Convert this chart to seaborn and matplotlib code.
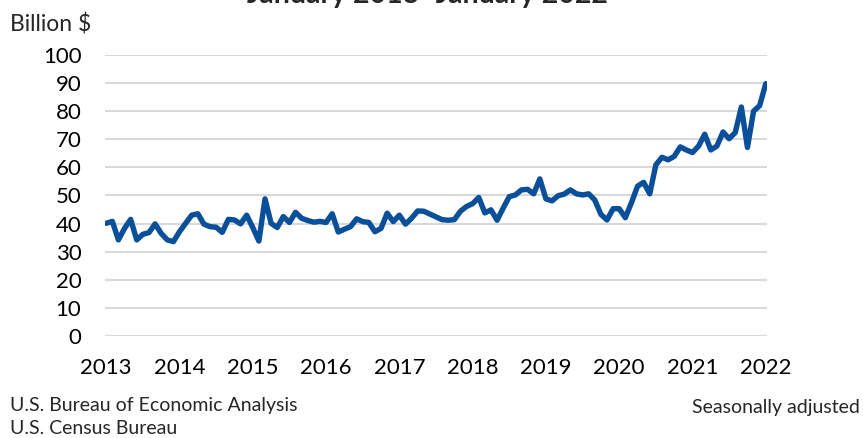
import matplotlib
matplotlib.use("Agg")
import matplotlib.pyplot as plt
import seaborn as sns
import pandas as pd
import numpy as np

# Monthly values, billion $ (Jan 2013 - Jan 2022)
v2013 = [40.1, 40.8, 34.2, 38.3, 41.5, 34.2, 36.2, 36.8, 39.9, 36.5, 34.2, 33.6]
v2014 = [37.1, 40.1, 43.0, 43.5, 39.8, 38.9, 38.7, 36.9, 41.5, 41.3, 39.9, 43.0]
v2015 = [38.6, 33.8, 48.8, 40.1, 38.6, 42.5, 40.4, 44.0, 41.9, 41.1, 40.5, 40.8]
v2016 = [40.4, 43.5, 37.0, 38.0, 38.9, 41.7, 40.7, 40.4, 37.1, 38.3, 43.7, 40.7]
v2017 = [43.0, 39.8, 41.9, 44.5, 44.4, 43.4, 42.4, 41.4, 41.2, 41.4, 44.4, 46.1]
v2018 = [47.1, 49.3, 43.8, 44.9, 41.2, 45.5, 49.6, 50.2, 52.0, 52.2, 50.6, 55.9]
v2019 = [48.8, 48.1, 49.9, 50.5, 52.0, 50.6, 50.2, 50.6, 48.4, 43.3, 41.3, 45.3]
v2020 = [45.3, 42.1, 47.4, 53.3, 54.7, 50.6, 60.9, 63.6, 62.7, 63.9, 67.3, 66.2]
v2021 = [65.3, 67.6, 71.8, 66.2, 67.6, 72.6, 70.2, 72.4, 81.5, 67.1, 80.0, 82.0]
v2022 = [89.8]

years = ["2013", "2014", "2015", "2016", "2017", "2018", "2019", "2020", "2021", "2022"]
y_ticks = [0, 10, 20, 30, 40, 50, 60, 70, 80, 90, 100]

values = v2013 + v2014 + v2015 + v2016 + v2017 + v2018 + v2019 + v2020 + v2021 + v2022
df = pd.DataFrame({"month": np.arange(len(values)), "value": values})

sns.set_theme(style="white")
plt.rcParams["font.family"] = ["Lato", "DejaVu Sans"]

W, H = 863, 438
fig = plt.figure(figsize=(W / 100, H / 100), dpi=100)
ax = fig.add_axes([105 / W, 1 - 336 / H, (767 - 105) / W, (336 - 55) / H])

for t in y_ticks:
    ax.axhline(t, color="#d9d9d9", lw=1.5, zorder=0)

sns.lineplot(data=df, x="month", y="value", ax=ax, color="#0a4f9a", lw=3.9,
             solid_capstyle="round", solid_joinstyle="round", zorder=3)

ax.set_xlim(-0.2, 108.2)
ax.set_ylim(0, 100)
ax.set_yticks(y_ticks)
ax.set_yticklabels([str(t) for t in y_ticks], fontsize=16, color="black")
ax.set_xticks([12 * i for i in range(len(years))])
ax.set_xticklabels(years, fontsize=16, color="black")
ax.tick_params(axis="y", length=0, pad=17)
ax.tick_params(axis="x", length=0, pad=16)
ax.set_xlabel("")
ax.set_ylabel("")
for s in ax.spines.values():
    s.set_visible(False)
ax.patch.set_alpha(0)

fig.text(427 / W, 1 - 3 / H, "January 2013\u2013January 2022", ha="center", va="baseline",
         fontsize=20.5, fontweight="bold")
fig.text(10 / W, 1 - 25 / H, "Billion $", ha="left", va="center", fontsize=16.5)
fig.text(10 / W, 1 - 406 / H, "U.S. Bureau of Economic Analysis", ha="left", va="center", fontsize=14)
fig.text(10 / W, 1 - 429 / H, "U.S. Census Bureau", ha="left", va="center", fontsize=14)
fig.text(860 / W, 1 - 407 / H, "Seasonally adjusted", ha="right", va="center", fontsize=14)

fig.savefig("out.png", dpi=100)
